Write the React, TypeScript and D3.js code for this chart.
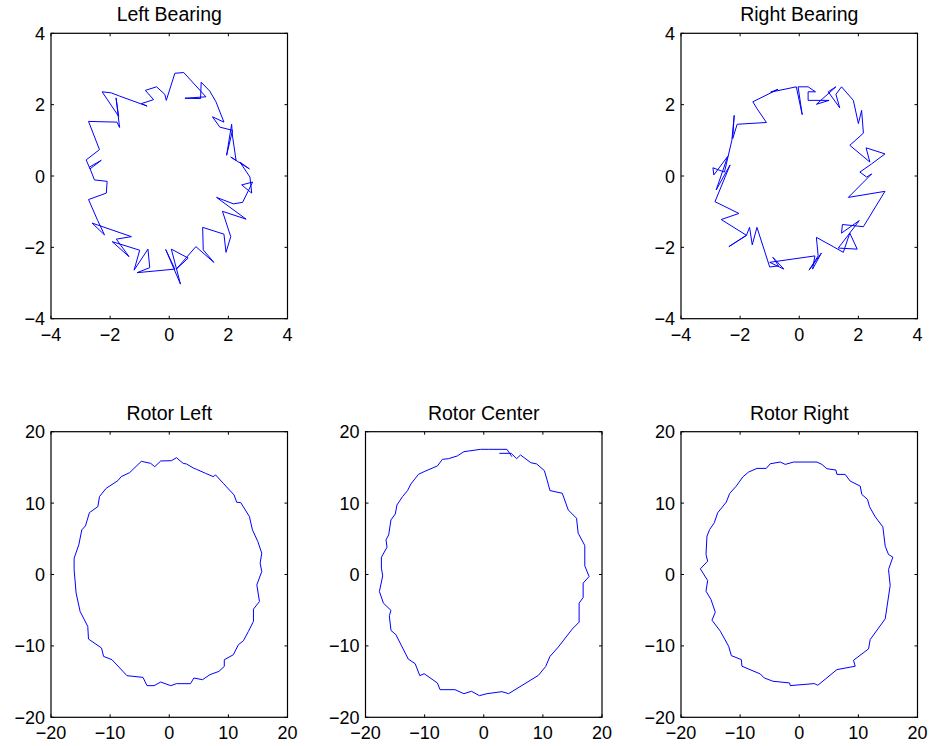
import React from 'react';
import * as d3 from 'd3';

const bearingTicks = [-4, -2, 0, 2, 4];
const rotorTicks = [-20, -10, 0, 10, 20];

const leftBearingX = [-2.73,-2.36,-2.81,-2.68,-2.30,-2.70,-2.53,-2.10,-2.13,-2.73,-2.42,-2.19,-2.61,-1.28,-1.79,-1.36,-1.93,-1.00,-1.19,-0.72,-0.66,-1.09,0.19,-0.12,0.38,0.07,0.64,0.24,0.90,1.51,1.15,1.13,1.85,1.92,2.08,1.80,2.60,1.60,2.17,2.48,2.82,2.45,2.79,2.73,2.39,2.71,2.08,2.26,2.14,2.11,1.94,2.14,1.71,1.46,1.85,1.58,1.37,1.08,1.06,0.53,1.24,0.49,0.19,-0.10,-0.15,-0.43,-0.81,-0.53,-0.94,-0.75,-1.68,-1.96,-2.27,-1.71,-1.80,-1.68,-1.77,-2.73];
const leftBearingY = [1.53,0.74,0.45,0.20,0.44,0.25,-0.11,-0.15,-0.48,-0.66,-1.25,-1.65,-1.32,-1.70,-1.77,-2.26,-1.84,-2.08,-2.64,-2.05,-2.57,-2.71,-2.61,-2.06,-3.03,-2.05,-2.30,-2.61,-1.98,-2.42,-2.07,-1.44,-1.63,-2.14,-1.70,-0.99,-1.21,-0.60,-0.78,-0.74,-0.17,-0.25,-0.48,-0.03,0.39,0.20,0.53,0.44,1.12,1.45,0.58,1.28,1.37,1.66,1.51,2.08,2.38,2.63,2.17,2.18,2.22,2.90,2.88,2.12,2.29,2.50,2.40,2.14,2.03,1.96,2.24,2.33,2.36,1.67,2.19,1.36,1.51,1.53];

const rightBearingX = [-1.57,-0.72,-0.97,-0.10,0.10,-0.04,0.30,0.55,0.30,0.30,1.01,0.58,1.24,0.98,1.37,1.24,1.43,1.83,2.00,2.11,2.17,1.71,2.39,2.26,2.90,2.45,2.05,2.28,2.45,1.66,2.90,2.17,1.46,1.43,2.03,1.32,1.96,1.71,1.49,1.15,0.58,0.64,0.33,0.75,0.45,0.53,-1.00,-0.52,-0.89,-0.70,-1.00,-1.43,-1.59,-1.68,-1.79,-2.38,-1.79,-2.64,-2.04,-2.85,-2.34,-2.81,-2.42,-2.89,-2.92,-2.53,-2.28,-2.20,-2.25,-2.10,-1.11,-1.43,-1.57];
const rightBearingY = [2.08,2.43,2.35,2.50,1.72,2.50,2.50,2.36,2.36,2.12,2.12,2.01,2.50,2.36,1.91,2.29,2.50,2.12,1.47,1.84,1.20,0.86,0.39,0.79,0.62,0.34,0.11,-0.03,0.06,-0.60,-0.43,-1.42,-1.36,-1.60,-1.25,-2.02,-2.05,-1.60,-2.14,-1.98,-1.72,-2.24,-2.64,-2.16,-2.61,-2.24,-2.42,-2.61,-2.28,-2.52,-2.55,-1.44,-1.93,-1.44,-1.67,-1.98,-1.66,-1.22,-1.05,-0.72,0.31,-0.39,0.55,0.03,0.23,0.11,1.00,1.70,1.05,1.45,1.50,1.89,2.08];

const rotorLeftX = [1.22,0.37,-1.44,-2.46,-3.14,-4.72,-6.70,-8.12,-8.68,-10.67,-11.80,-12.07,-13.50,-14.17,-14.79,-15.30,-16.09,-16.09,-15.75,-15.08,-13.78,-13.66,-11.45,-11.11,-9.69,-7.15,-4.44,-3.76,-2.57,-1.44,0.25,1.22,3.59,4.16,5.63,6.88,8.40,9.31,9.31,10.84,11.69,12.54,13.39,14.24,14.24,15.26,14.81,15.65,15.37,15.65,14.98,14.07,13.56,12.09,11.41,10.96,9.14,7.84,7.44,6.14,4.61,4.16,2.91,2.35,1.22];
const rotorLeftY = [16.36,15.94,15.90,15.10,15.57,15.85,14.27,13.71,13.15,12.07,10.91,9.51,8.67,6.81,6.25,4.15,2.28,0.65,-2.61,-5.17,-7.27,-9.04,-10.30,-11.47,-11.93,-14.17,-14.41,-15.57,-15.57,-15.06,-15.57,-15.29,-15.29,-14.50,-14.73,-14.03,-13.57,-12.87,-11.93,-11.24,-9.84,-9.28,-7.97,-6.57,-4.85,-3.78,-1.45,0.42,1.59,2.98,4.62,6.25,8.11,10.07,10.12,11.14,12.77,13.94,13.71,14.17,14.73,14.87,15.48,15.57,16.36];

const rotorCenterX = [2.63,4.65,5.55,6.22,7.96,8.96,10.25,10.76,11.20,13.28,14.29,15.69,15.97,17.09,17.09,17.82,16.81,16.81,16.13,16.13,14.96,12.61,11.20,10.48,9.24,4.20,3.08,0.56,-0.73,-2.07,-3.36,-4.87,-7.39,-7.84,-10.08,-10.81,-11.60,-12.77,-14.85,-15.69,-15.97,-15.69,-16.97,-17.65,-17.09,-17.31,-17.31,-16.36,-16.53,-16.08,-15.69,-14.96,-14.68,-13.73,-12.89,-12.32,-11.04,-10.08,-8.40,-7.84,-7.00,-5.99,-4.48,-3.36,-0.56,0.84,3.92,4.76];
const rotorCenterY = [16.97,16.97,16.22,16.74,15.66,15.48,14.55,13.10,11.75,11.38,9.04,7.88,5.78,4.06,1.21,-0.28,-1.21,-3.22,-4.01,-6.67,-7.65,-10.16,-11.47,-12.87,-14.13,-16.69,-16.41,-16.69,-16.97,-16.36,-16.69,-16.13,-16.13,-15.20,-13.89,-14.17,-12.49,-11.84,-8.44,-7.83,-5.78,-5.03,-4.01,-2.38,-0.19,0.89,2.42,3.82,4.85,5.55,7.65,8.48,9.74,10.91,11.75,12.68,14.03,14.41,15.01,15.20,16.13,16.22,16.60,17.20,17.53,17.53,17.53,16.50];

const rotorRightX = [-0.96,2.99,3.83,4.68,6.20,6.37,7.77,8.62,10.31,10.59,11.55,11.89,12.85,14.14,14.54,15.10,15.83,15.10,15.38,14.54,12.00,11.72,9.18,9.46,6.37,3.15,2.54,-1.52,-1.63,-4.45,-5.92,-6.59,-9.69,-9.80,-11.49,-11.94,-13.35,-14.76,-14.20,-14.93,-15.77,-15.49,-16.73,-15.49,-15.77,-15.61,-15.15,-14.37,-13.80,-12.34,-11.77,-10.65,-9.52,-8.56,-7.15,-5.58,-4.90,-3.21,-2.37,-0.96];
const rotorRightY = [15.75,15.75,15.42,14.81,14.63,14.02,14.02,13.08,12.38,11.21,10.51,9.49,8.08,6.68,3.97,2.80,2.43,0.70,-1.54,-6.21,-9.11,-10.42,-12.01,-12.85,-13.32,-15.51,-15.28,-15.56,-15.19,-14.95,-14.49,-13.93,-12.85,-11.92,-11.36,-10.05,-7.94,-6.40,-5.28,-3.50,-2.34,-0.84,0.79,1.87,2.80,5.37,6.31,7.24,8.64,10.14,11.36,12.38,13.69,14.35,14.86,14.86,15.51,15.75,15.42,15.75];

const FONT = '"Liberation Sans", Arial, Helvetica, sans-serif';
const fmt = (v: number) => (v < 0 ? '\u2212' + Math.abs(v) : String(v));

type PanelProps = {
  title: string;
  xs: number[];
  ys: number[];
  ticks: number[];
  left: number;
  right: number;
  top: number;
  bottom: number;
};

function Panel({ title, xs, ys, ticks, left, right, top, bottom }: PanelProps) {
  const dom: [number, number] = [ticks[0], ticks[ticks.length - 1]];
  const x = d3.scaleLinear().domain(dom).range([left, right]);
  const y = d3.scaleLinear().domain(dom).range([bottom, top]);
  const idx = d3.range(Math.min(xs.length, ys.length));
  const line = d3
    .line<number>()
    .x((i) => x(xs[i]))
    .y((i) => y(ys[i]));
  const tl = 3;
  return (
    <g>
      <rect x={left} y={top} width={right - left} height={bottom - top} fill="white" />
      <path d={line(idx) || ''} fill="none" stroke="#0000ff" strokeWidth={1} strokeLinejoin="miter" />
      <rect x={left} y={top} width={right - left} height={bottom - top} fill="none" stroke="black" strokeWidth={1.2} />
      {ticks.map((t) => (
        <g key={'t' + t}>
          <line x1={x(t)} x2={x(t)} y1={bottom} y2={bottom - tl} stroke="black" strokeWidth={1} />
          <line x1={x(t)} x2={x(t)} y1={top} y2={top + tl} stroke="black" strokeWidth={1} />
          <line x1={left} x2={left + tl} y1={y(t)} y2={y(t)} stroke="black" strokeWidth={1} />
          <line x1={right} x2={right - tl} y1={y(t)} y2={y(t)} stroke="black" strokeWidth={1} />
          <text x={x(t)} y={bottom + 22} textAnchor="middle" fontSize={18} fontFamily={FONT} fill="black">
            {fmt(t)}
          </text>
          <text x={left - 6} y={y(t) + 6.5} textAnchor="end" fontSize={18} fontFamily={FONT} fill="black">
            {fmt(t)}
          </text>
        </g>
      ))}
      <text x={(left + right) / 2} y={top - 12} textAnchor="middle" fontSize={19.5} fontFamily={FONT} fill="black">
        {title}
      </text>
    </g>
  );
}

export default function App() {
  const topRow = { top: 33.3, bottom: 318.7 };
  const botRow = { top: 431.7, bottom: 717.3 };
  const cols = [
    { left: 51, right: 287.5 },
    { left: 365.5, right: 602 },
    { left: 681, right: 917.5 },
  ];
  return (
    <svg
      width={931}
      height={746}
      style={{ position: 'absolute', left: 0, top: 0, background: 'white' }}
    >
      <rect width={931} height={746} fill="white" />
      <Panel title="Left Bearing" xs={leftBearingX} ys={leftBearingY} ticks={bearingTicks} {...cols[0]} {...topRow} />
      <Panel title="Right Bearing" xs={rightBearingX} ys={rightBearingY} ticks={bearingTicks} {...cols[2]} {...topRow} />
      <Panel title="Rotor Left" xs={rotorLeftX} ys={rotorLeftY} ticks={rotorTicks} {...cols[0]} {...botRow} />
      <Panel title="Rotor Center" xs={rotorCenterX} ys={rotorCenterY} ticks={rotorTicks} {...cols[1]} {...botRow} />
      <Panel title="Rotor Right" xs={rotorRightX} ys={rotorRightY} ticks={rotorTicks} {...cols[2]} {...botRow} />
    </svg>
  );
}
